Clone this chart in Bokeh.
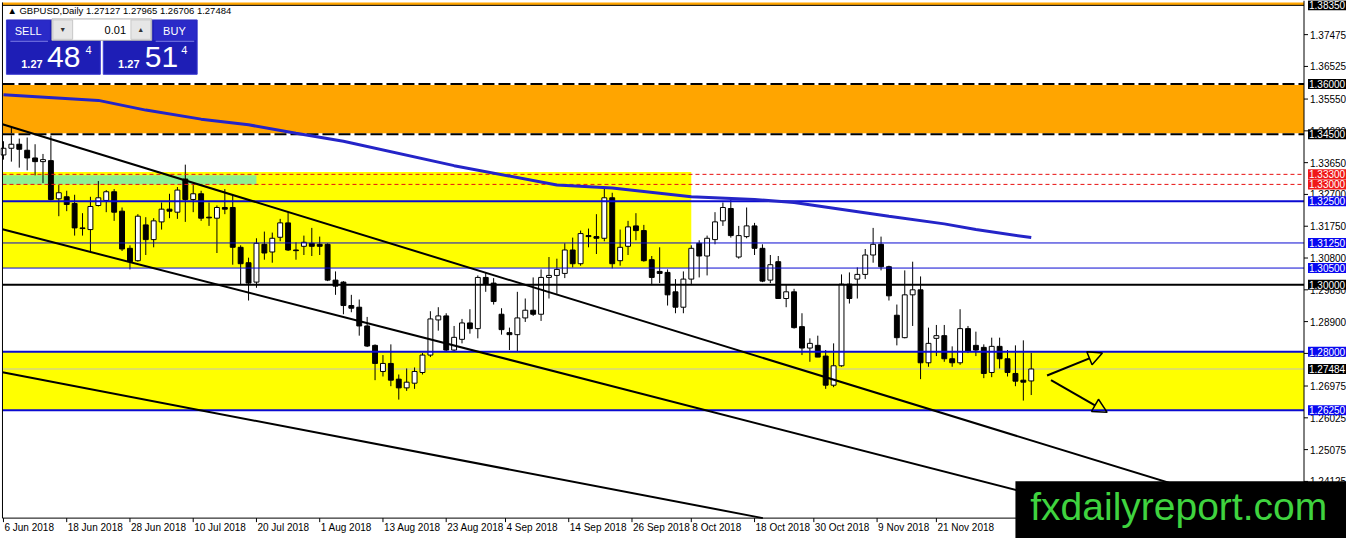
import math
from bokeh.plotting import figure
from bokeh.models import (ColumnDataSource, Label, BoxAnnotation, Arrow, NormalHead, Range1d)
from bokeh.embed import file_html
from bokeh.resources import INLINE
from bokeh.core.properties import value

# ---------------- data (GBPUSD daily) ----------------
opens = [1.3388, 1.3408, 1.3420, 1.3402, 1.3379, 1.3368, 1.3371, 1.3257, 1.3263, 1.3243,
         1.3170, 1.3165, 1.3237, 1.3252, 1.3278, 1.3220, 1.3109, 1.3072, 1.3179, 1.3135,
         1.3188, 1.3226, 1.3217, 1.3316, 1.3255, 1.3272, 1.3202, 1.3199, 1.3231, 1.3231,
         1.3112, 1.3066, 1.3008, 1.3121, 1.3098, 1.3142, 1.3185, 1.3104, 1.3115, 1.3124,
         1.3121, 1.3121, 1.3014, 1.3008, 1.2938, 1.2933, 1.2877, 1.2819, 1.2741, 1.2765,
         1.2718, 1.2692, 1.2706, 1.2738, 1.2790, 1.2895, 1.2907, 1.2805, 1.2837, 1.2886,
         1.2869, 1.3022, 1.3005, 1.2912, 1.2857, 1.2851, 1.2901, 1.2924, 1.2912, 1.3022,
         1.3028, 1.3034, 1.3104, 1.3063, 1.3147, 1.3144, 1.3139, 1.3260, 1.3072, 1.3115,
         1.3176, 1.3162, 1.3075, 1.3040, 1.3037, 1.2979, 1.2933, 1.3017, 1.3124, 1.3086,
         1.3135, 1.3191, 1.3228, 1.3083, 1.3144, 1.3176, 1.3109, 1.3014, 1.3069, 1.2959,
         1.2979, 1.2875, 1.2811, 1.2819, 1.2787, 1.2700, 1.2758, 1.3002, 1.3017, 1.3031,
         1.3089, 1.3121, 1.3054, 1.2909, 1.2842, 1.2970, 1.2985, 1.2767, 1.2840, 1.2848,
         1.2779, 1.2767, 1.2869, 1.2819, 1.2813, 1.2738, 1.2816, 1.2779, 1.2735, 1.2715,
         1.27127]
highs = [1.3429, 1.3469, 1.3437, 1.3440, 1.3420, 1.3391, 1.3446, 1.3298, 1.3281, 1.3269,
         1.3214, 1.3263, 1.3310, 1.3283, 1.3286, 1.3231, 1.3118, 1.3211, 1.3202, 1.3199,
         1.3246, 1.3272, 1.3292, 1.3359, 1.3298, 1.3281, 1.3246, 1.3237, 1.3286, 1.3269,
         1.3118, 1.3081, 1.3139, 1.3159, 1.3156, 1.3197, 1.3217, 1.3127, 1.3147, 1.3170,
         1.3144, 1.3124, 1.3040, 1.3011, 1.2970, 1.2956, 1.2904, 1.2822, 1.2790, 1.2822,
         1.2732, 1.2750, 1.2753, 1.2796, 1.2921, 1.2933, 1.2915, 1.2877, 1.2898, 1.2927,
         1.3028, 1.3037, 1.3020, 1.2930, 1.2872, 1.2979, 1.2959, 1.3022, 1.3046, 1.3083,
         1.3078, 1.3124, 1.3141, 1.3162, 1.3168, 1.3211, 1.3292, 1.3275, 1.3165, 1.3191,
         1.3214, 1.3179, 1.3086, 1.3112, 1.3046, 1.3017, 1.3040, 1.3118, 1.3133, 1.3147,
         1.3217, 1.3246, 1.3255, 1.3176, 1.3231, 1.3185, 1.3121, 1.3089, 1.3086, 1.3002,
         1.2988, 1.2915, 1.2840, 1.2848, 1.2805, 1.2825, 1.3031, 1.3037, 1.3052, 1.3107,
         1.3170, 1.3144, 1.3057, 1.2941, 1.3043, 1.3069, 1.3025, 1.2872, 1.2880, 1.2880,
         1.2816, 1.2927, 1.2877, 1.2860, 1.2822, 1.2842, 1.2842, 1.2805, 1.2819, 1.2834,
         1.27965]
lows = [1.3374, 1.3368, 1.3350, 1.3342, 1.3327, 1.3304, 1.3252, 1.3205, 1.3220, 1.3147,
        1.3147, 1.3101, 1.3234, 1.3217, 1.3191, 1.3101, 1.3046, 1.3069, 1.3089, 1.3112,
        1.3165, 1.3199, 1.3197, 1.3188, 1.3217, 1.3191, 1.3176, 1.3095, 1.3211, 1.3060,
        1.3002, 1.2953, 1.2991, 1.3075, 1.3066, 1.3130, 1.3101, 1.3075, 1.3089, 1.3086,
        1.3089, 1.3011, 1.2970, 1.2912, 1.2918, 1.2848, 1.2814, 1.2715, 1.2726, 1.2697,
        1.2657, 1.2683, 1.2689, 1.2732, 1.2784, 1.2863, 1.2799, 1.2799, 1.2825, 1.2854,
        1.2840, 1.2979, 1.2941, 1.2851, 1.2805, 1.2799, 1.2889, 1.2907, 1.2892, 1.2959,
        1.2973, 1.3020, 1.3052, 1.3057, 1.3112, 1.3092, 1.3130, 1.3049, 1.3057, 1.3089,
        1.3133, 1.3069, 1.2999, 1.3005, 1.2938, 1.2915, 1.2915, 1.2999, 1.3022, 1.3028,
        1.3121, 1.3176, 1.3141, 1.3078, 1.3139, 1.3089, 1.3008, 1.3005, 1.2959, 1.2933,
        1.2869, 1.2790, 1.2770, 1.2784, 1.2689, 1.2694, 1.2755, 1.2944, 1.2959, 1.3017,
        1.3066, 1.3043, 1.2953, 1.2819, 1.2840, 1.2877, 1.2718, 1.2755, 1.2787, 1.2770,
        1.2755, 1.2761, 1.2796, 1.2787, 1.2721, 1.2724, 1.2750, 1.2726, 1.2697, 1.2654,
        1.26706]
closes = [1.3408, 1.3420, 1.3405, 1.3379, 1.3368, 1.3374, 1.3255, 1.3275, 1.3240, 1.3170,
          1.3168, 1.3234, 1.3260, 1.3278, 1.3217, 1.3107, 1.3069, 1.3205, 1.3135, 1.3191,
          1.3226, 1.3220, 1.3283, 1.3255, 1.3272, 1.3199, 1.3200, 1.3231, 1.3226, 1.3112,
          1.3063, 1.3005, 1.3124, 1.3095, 1.3139, 1.3185, 1.3104, 1.3102, 1.3127, 1.3115,
          1.3115, 1.3014, 1.2996, 1.2938, 1.2930, 1.2877, 1.2817, 1.2765, 1.2765, 1.2715,
          1.2692, 1.2709, 1.2741, 1.2790, 1.2898, 1.2907, 1.2805, 1.2843, 1.2886, 1.2869,
          1.3022, 1.3002, 1.2950, 1.2866, 1.2851, 1.2901, 1.2924, 1.2912, 1.3022, 1.3028,
          1.3046, 1.3104, 1.3063, 1.3153, 1.3144, 1.3139, 1.3260, 1.3063, 1.3112, 1.3173,
          1.3162, 1.3072, 1.3022, 1.3034, 1.2970, 1.2933, 1.3017, 1.3109, 1.3086, 1.3139,
          1.3188, 1.3231, 1.3147, 1.3147, 1.3176, 1.3109, 1.3011, 1.3060, 1.2959, 1.2979,
          1.2872, 1.2811, 1.2825, 1.2784, 1.2700, 1.2758, 1.3002, 1.2959, 1.3031, 1.3089,
          1.3121, 1.3054, 1.2967, 1.2842, 1.2970, 1.2985, 1.2767, 1.2825, 1.2848, 1.2779,
          1.2767, 1.2869, 1.2802, 1.2805, 1.2735, 1.2816, 1.2779, 1.2738, 1.2712, 1.2709,
          1.27484]

date_ticks = [0, 8, 16, 24, 32, 40, 48, 56, 63.5, 71.5, 79.5, 87, 95, 102.5, 110.5, 118]
date_labels = ["6 Jun 2018", "18 Jun 2018", "28 Jun 2018", "10 Jul 2018", "20 Jul 2018",
               "1 Aug 2018", "13 Aug 2018", "23 Aug 2018", "4 Sep 2018", "14 Sep 2018",
               "26 Sep 2018", "8 Oct 2018", "18 Oct 2018", "30 Oct 2018", "9 Nov 2018",
               "21 Nov 2018"]
price_ticks = [1.37475, 1.36525, 1.35550, 1.34600, 1.33650, 1.32700, 1.31750, 1.30800,
               1.29850, 1.28900, 1.27950, 1.26975, 1.26025, 1.25075, 1.24125]

# moving average (blue curve), sampled along the bars
ma_bars = [0, 12, 18, 25, 31, 37, 43, 57, 70, 77, 87, 95, 100, 112, 119, 123, 130]
ma_vals = [1.3568, 1.3551, 1.3522, 1.3495, 1.3478, 1.3453, 1.3429, 1.3356, 1.3298, 1.3289,
           1.3263, 1.3255, 1.3246, 1.3205, 1.3182, 1.3165, 1.3141]

# channel trend lines: anchors at two bars
trend_bars = [0, 130]
trend_upper = [1.3479, 1.2535]
trend_middle = [1.3165, 1.2375]
trend_lower = [1.2738, 1.2149]

# horizontal levels and zones
top_level = 1.3835
orange_zone = [1.3450, 1.3600]
red_levels = [1.3330, 1.3300]
blue_thick_levels = [1.3250, 1.2800, 1.2625]
blue_thin_levels = [1.3125, 1.3050]
black_level = 1.3000
bid_price = 1.27484
upper_box = dict(bar_end=87, low=1.3050, high=1.3337)
green_box = dict(bar_end=32, low=1.3300, high=1.3327)
lower_zone = [1.2625, 1.2800]

axis_label_prices = [1.3835, 1.3600, 1.3450, 1.3330, 1.3300, 1.3250, 1.3125, 1.3050,
                     1.3000, 1.2800, 1.27484, 1.2625]
axis_label_kinds = ["k", "k", "k", "r", "r", "b", "b", "b", "k", "b", "k", "b"]

arrow_x0 = [132.0, 132.5]
arrow_y0 = [1.2729, 1.2715]
arrow_x1 = [139.0, 139.6]
arrow_y1 = [1.2796, 1.2619]

# ---------------- layout: the frame is the whole canvas, MT4 style scales ----------------
W, H = 1346, 538
REF_W, REF_H = 1362.0, 554.0
FONT = "Liberation Sans"
BLUE = "#0a0ad2"

# chart area bounds in data units (bars / price)
plot_left, plot_right = -0.125, 164.5
plot_bottom, plot_top = 1.23028, 1.38437

p = figure(width=W, height=H, x_range=Range1d(-0.375, 169.875), y_range=Range1d(1.22419, 1.38495),
           output_backend="svg", toolbar_location=None,
           min_border_left=0, min_border_right=0, min_border_top=0, min_border_bottom=0,
           background_fill_color="white", border_fill_color="white", outline_line_color=None)
p.grid.visible = False
p.xaxis.visible = False
p.yaxis.visible = False


def hline(ys, **kw):
    n = len(ys)
    p.segment(x0=[plot_left] * n, x1=[plot_right] * n, y0=ys, y1=ys, **kw)


# zones (background)
p.quad(left=[plot_left], right=[plot_right], bottom=[top_level], top=[plot_top],
       fill_color="#ffa500", line_color=None)
p.quad(left=[plot_left], right=[plot_right], bottom=[orange_zone[0]], top=[orange_zone[1]],
       fill_color="#ffa500", line_color=None)
p.quad(left=[plot_left], right=[upper_box["bar_end"]], bottom=[upper_box["low"]],
       top=[upper_box["high"]], fill_color="yellow", line_color=None)
p.quad(left=[plot_left], right=[green_box["bar_end"]], bottom=[green_box["low"]],
       top=[green_box["high"]], fill_color="#90ee90", line_color=None)
p.quad(left=[plot_left], right=[plot_right], bottom=[lower_zone[0]], top=[lower_zone[1]],
       fill_color="yellow", line_color=None)
hline([bid_price], line_color="#c0c0c0", line_width=1)

# candles
idx = list(range(len(opens)))
bull = [c >= o for o, c in zip(opens, closes)]
src = ColumnDataSource(dict(
    x=idx, h=highs, l=lows,
    top=[max(o, c) for o, c in zip(opens, closes)],
    bottom=[min(o, c) for o, c in zip(opens, closes)],
    fill=["white" if b else "black" for b in bull]))
p.segment(x0="x", y0="l", x1="x", y1="h", source=src, line_color="black", line_width=1)
p.vbar(x="x", width=0.62, top="top", bottom="bottom", fill_color="fill",
       line_color="black", line_width=1, source=src)

# levels (foreground)
hline([top_level], line_color="black", line_width=1)
hline(orange_zone, line_color="white", line_width=2)
hline(orange_zone, line_color="black", line_width=2, line_dash="12 4")
hline(red_levels, line_color="#e81010", line_width=1, line_dash="4 3")
hline(blue_thick_levels, line_color=BLUE, line_width=2)
hline(blue_thin_levels, line_color=BLUE, line_width=1)
hline([black_level], line_color="black", line_width=2)

# trend lines (rays to the right, stopped at the chart edges)
for a, b in [trend_upper, trend_middle, trend_lower]:
    slope = (b - a) / (trend_bars[1] - trend_bars[0])
    x_hit = trend_bars[0] + (plot_bottom - a) / slope
    x_end = min(plot_right, x_hit)
    xs = [plot_left, x_end]
    p.line(xs, [a + slope * (e - trend_bars[0]) for e in xs], line_color="black", line_width=2)

# moving average
p.line(ma_bars, ma_vals, line_color="#2424c8", line_width=3)

# arrows
asrc = ColumnDataSource(dict(x0=arrow_x0, y0=arrow_y0, x1=arrow_x1, y1=arrow_y1))
p.add_layout(Arrow(x_start="x0", y_start="y0", x_end="x1", y_end="y1", source=asrc,
                   line_color="black", line_width=2,
                   end=NormalHead(size=14, fill_color=None, line_color="black", line_width=1.5)))

# ---------------- axes (MT4 style: price scale on the right, dates below) ----------------
p.segment(x0=[plot_left], x1=[plot_left], y0=[plot_bottom], y1=[plot_top], line_color="black")
p.segment(x0=[plot_right], x1=[plot_right], y0=[plot_bottom], y1=[1.38495], line_color="black")
p.segment(x0=[plot_left], x1=[plot_right], y0=[plot_bottom], y1=[plot_bottom], line_color="black")

p.ray(x=[plot_right] * len(price_ticks), y=price_ticks, length=4, length_units="screen",
      angle=0, line_color="black")
p.text(x=[plot_right] * len(price_ticks), y=price_ticks, text=[f"{t:.5f}" for t in price_ticks],
       x_offset=6, text_align="left", text_baseline="middle", text_color="black",
       text_font=value(FONT), text_font_size="10px")

p.ray(x=date_ticks, y=[plot_bottom] * len(date_ticks), length=4, length_units="screen",
      angle=-math.pi / 2, line_color="black")
p.text(x=date_ticks, y=[plot_bottom] * len(date_ticks), text=date_labels,
       x_offset=1, y_offset=4, text_align="left", text_baseline="top", text_color="black",
       text_font=value(FONT), text_font_size="10px")

kind_color = {"k": "black", "r": "#f01818", "b": "#0808f0"}
for k in ["k", "r", "b"]:
    ys = [pr for pr, kk in zip(axis_label_prices, axis_label_kinds) if kk == k]
    p.text(x=[plot_right] * len(ys), y=ys, text=[f"{v:.5f}" for v in ys],
           x_offset=4, text_align="left", text_baseline="middle", text_color="white",
           text_font=value(FONT), text_font_size="10px",
           background_fill_color=kind_color[k], padding=1)


# ---------------- screen-placed decorations (title, trade panel, watermark) ----------------
def sx(x):
    return x * W / REF_W


def sy(y):
    return (REF_H - y) * H / REF_H


def sbox(x0, y0, x1, y1, color, line=None, level="annotation"):
    p.add_layout(BoxAnnotation(left=sx(x0), right=sx(x1), top=sy(y0), bottom=sy(y1),
                               left_units="screen", right_units="screen",
                               top_units="screen", bottom_units="screen",
                               fill_color=color, fill_alpha=1, line_color=line,
                               line_alpha=1 if line else 0, level=level))


def stext(x, y, txt, size, color="white", align="left", style="normal", level="annotation"):
    # y is the vertical centre of the text
    p.add_layout(Label(x=sx(x), y=sy(y), x_units="screen", y_units="screen", text=txt,
                       text_font=FONT, text_font_size=size, text_color=color,
                       text_align=align, text_baseline="middle", text_font_style=style,
                       level=level))


stext(7, 10, "\u25B2 GBPUSD,Daily  1.27127 1.27965 1.26706 1.27484", "9.5px", color="black")

sbox(6, 20, 101, 76, "#1e1eb6", "#3a3ad0")
sbox(104, 20, 199, 76, "#1e1eb6", "#3a3ad0")
sbox(7, 21, 50, 41, "#2a2ac8")
sbox(155, 21, 198, 41, "#2a2ac8")
sbox(10, 41.5, 48, 42.5, "#8080e8")
sbox(157, 41.5, 196, 42.5, "#8080e8")
sbox(52, 19, 153, 41, "white", "#b0b0b0")
sbox(53, 20, 73, 40, "#e6e6e6", "#c8c8c8")
sbox(132, 20, 152, 40, "#e6e6e6", "#c8c8c8")
stext(28, 31, "SELL", "11px", align="center")
stext(176, 31, "BUY", "11px", align="center")
stext(127, 30, "0.01", "11px", color="black", align="right")
stext(63, 30, "\u25BC", "7px", color="#333333", align="center")
stext(142, 30, "\u25B2", "7px", color="#333333", align="center")
stext(21, 65, "1.27", "11px", style="bold")
stext(47, 58, "48", "30px")
stext(86, 51, "4", "11px")
stext(119, 65, "1.27", "11px", style="bold")
stext(146, 58, "51", "30px")
stext(183, 51, "4", "11px")

# watermark
sbox(1027, 495, 1372, 564, "black", level="overlay")
stext(1042, 521, "fxdailyreport.com", "39px", color="#3fd33f", level="overlay")

open("out.html", "w").write(file_html(p, INLINE))
